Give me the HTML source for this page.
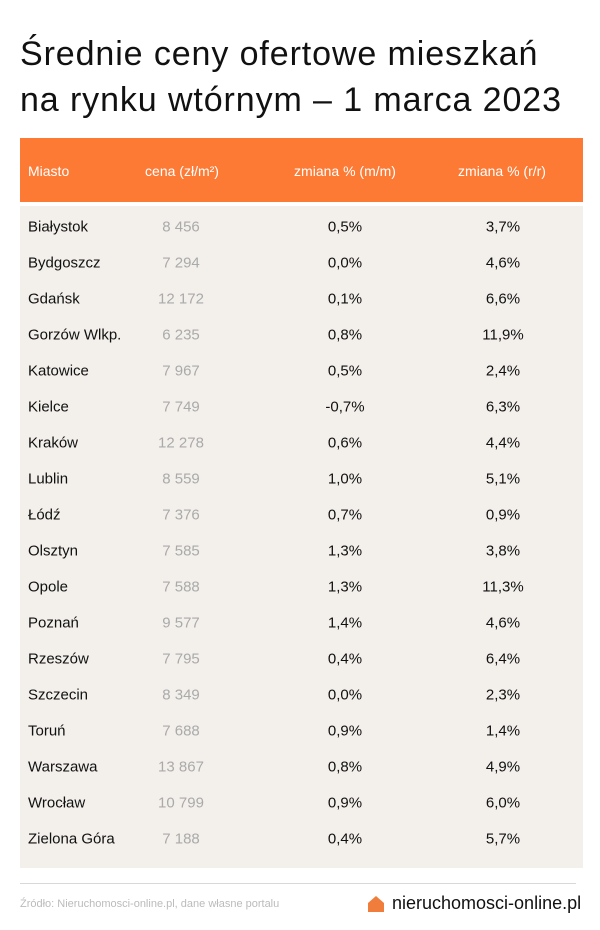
<!DOCTYPE html>
<html><head><meta charset="utf-8"><style>
body{margin:0;width:600px;height:930px;background:#fff;font-family:"Liberation Sans",sans-serif;position:relative;overflow:hidden}
.t{position:absolute;left:20px;font-size:34px;color:#111;letter-spacing:0.9px;white-space:nowrap}
.hd{position:absolute;left:20px;top:138px;width:563px;height:64px;background:#fd7a35}
.bd{position:absolute;left:20px;top:206px;width:563px;height:662px;background:#f3f0ec}
.c{position:absolute;font-size:15px;white-space:nowrap;transform:translateY(-50%)}
.h{color:#fff;font-size:14px}
.m{transform:translate(-50%,-50%)}
</style></head><body>
<div class="t" style="top:35px">Średnie ceny ofertowe mieszkań</div>
<div class="t" style="top:81px">na rynku wtórnym – 1 marca 2023</div>
<div class="hd"></div><div class="bd"></div>
<div class="c h" style="left:28px;top:171px">Miasto</div>
<div class="c h m" style="left:182px;top:171px">cena (zł/m²)</div>
<div class="c h m" style="left:345px;top:171px">zmiana % (m/m)</div>
<div class="c h m" style="left:502px;top:171px">zmiana % (r/r)</div>
<div id="rows"></div>
<div style="position:absolute;left:20px;top:883px;width:556px;height:1px;background:#d8d8d8"></div>
<div style="position:absolute;left:20px;top:898px;font-size:11px;color:#bbb">Źródło: Nieruchomosci-online.pl, dane własne portalu</div>
<svg style="position:absolute;left:367px;top:895px" width="18" height="18"><path d="M1 8 L9 1 L17 8 L17 17 L1 17Z" fill="#f07d3b"/></svg>
<div style="position:absolute;left:392px;top:893px;font-size:18px;color:#111">nieruchomosci-online.pl</div>
<script>
var d=[["Białystok","8 456","0,5%","3,7%"],["Bydgoszcz","7 294","0,0%","4,6%"],["Gdańsk","12 172","0,1%","6,6%"],["Gorzów Wlkp.","6 235","0,8%","11,9%"],["Katowice","7 967","0,5%","2,4%"],["Kielce","7 749","-0,7%","6,3%"],["Kraków","12 278","0,6%","4,4%"],["Lublin","8 559","1,0%","5,1%"],["Łódź","7 376","0,7%","0,9%"],["Olsztyn","7 585","1,3%","3,8%"],["Opole","7 588","1,3%","11,3%"],["Poznań","9 577","1,4%","4,6%"],["Rzeszów","7 795","0,4%","6,4%"],["Szczecin","8 349","0,0%","2,3%"],["Toruń","7 688","0,9%","1,4%"],["Warszawa","13 867","0,8%","4,9%"],["Wrocław","10 799","0,9%","6,0%"],["Zielona Góra","7 188","0,4%","5,7%"]];
var h="";d.forEach(function(r,i){var y=227+i*36;
h+='<div class="c" style="left:28px;top:'+y+'px;color:#111">'+r[0]+'</div>';
h+='<div class="c m" style="left:181px;top:'+y+'px;color:#aaa">'+r[1]+'</div>';
h+='<div class="c m" style="left:345px;top:'+y+'px;color:#111">'+r[2]+'</div>';
h+='<div class="c m" style="left:503px;top:'+y+'px;color:#111">'+r[3]+'</div>';});
document.getElementById("rows").innerHTML=h;
</script>
</body></html>
